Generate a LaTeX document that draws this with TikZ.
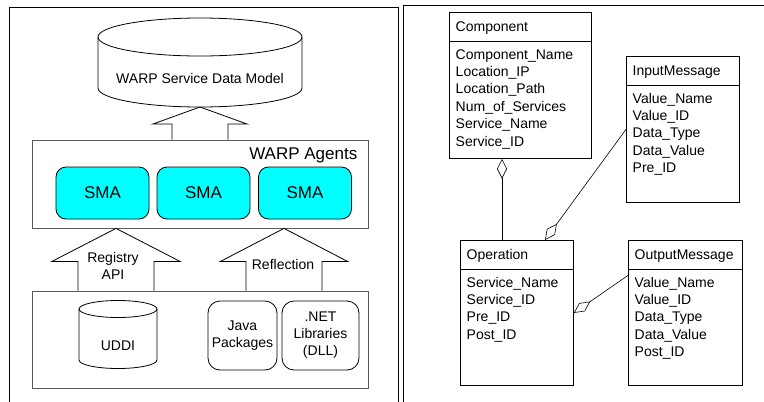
\documentclass[tikz,border=0pt]{standalone}
\usepackage{fontspec}
\setmainfont{Liberation Sans}
\usepackage{tikz}
\usetikzlibrary{arrows.meta,calc}
\definecolor{smacyan}{RGB}{0,255,255}
\newcommand{\bigfont}{\fontsize{17}{20}\selectfont}
\tikzstyle{outline} = [draw, line width=1pt]
\tikzstyle{panel} = [draw=black!65, line width=0.8pt, inner sep=0pt]
\tikzstyle{sma} = [draw, fill=smacyan, rounded corners=10pt, minimum width=93pt, minimum height=52pt, font=\bigfont]
\tikzstyle{libbox} = [draw, rounded corners=12pt, minimum height=69pt, align=center, inner sep=0pt]
\tikzstyle{classbox} = [draw, inner sep=0pt]
\tikzstyle{assoc} = [draw, line width=0.6pt]
\tikzset{>=latex, aggr/.tip={Diamond[open,length=20pt,width=10pt]}}
% drum: centre x, top y, bottom y, x radius, y radius
\newcommand{\drum}[5]{%
  \draw[fill=white] ({#1-#4},#2) -- ({#1-#4},#3) arc[start angle=180, end angle=360, x radius=#4pt, y radius=#5pt] -- ({#1+#4},#2);
  \draw (#1,#2) ellipse[x radius=#4pt, y radius=#5pt];}
% hollow block arrow from a base anchor up to a tip anchor
\newcommand{\blockarrow}[5]{%
  \draw[fill=white] let \p1=(#1), \p2=(#2) in
    (\x2+#4pt,\y1) -- (\x2+#4pt,\y2-#5pt) -- (\x2+#3pt,\y2-#5pt) -- (\p2)
    -- (\x2-#3pt,\y2-#5pt) -- (\x2-#4pt,\y2-#5pt) -- (\x2-#4pt,\y1);}
% class box: name, x, y, width, height, title, attributes
\newcommand{\umlclass}[7]{%
  \node[classbox, minimum width=#4pt, minimum height=#5pt, anchor=north west] (#1) at (#2,#3) {};
  \node[anchor=base west] (#1-title) at ([xshift=3pt,yshift=-19pt]#1.north west) {#6};
  \draw ([yshift=-29pt]#1.north west) -- ([yshift=-29pt]#1.north east);
  \foreach \attr [count=\k] in {#7}
    \node[anchor=base west] (#1-\k) at ([xshift=3pt,yshift={-(47+17.4*(\k-1))*1pt}]#1.north west) {\attr};}

\begin{document}
\begin{tikzpicture}[x=1pt, y=-1pt, font=\fontsize{14}{17}\selectfont, line width=0.8pt]
  \useasboundingbox (0,0) rectangle (764,402);
  \draw[outline] (9,402) -- (9,7) -- (398,7) -- (398,402);
  \draw[outline] (403,402) -- (403,5) -- (764,5);

  % service data model
  \drum{200}{37}{88}{102}{19}
  \coordinate (sdm-base) at (200,107);
  \node[anchor=base] (sdm) at (200,83) {WARP Service Data Model};

  % agents
  \node[panel, minimum width=336pt, minimum height=88pt] (agents) at (200,184) {};
  \node[anchor=base east, font=\bigfont] (agents-label) at (361,159) {WARP Agents};
  \node[sma] (sma1) at (102.5,193) {SMA};
  \node[sma] (sma2) at (203.5,193) {SMA};
  \node[sma] (sma3) at (305,193) {SMA};
  \blockarrow{agents.north}{sdm-base}{47}{28}{17}

  % sources
  \node[panel, minimum width=336pt, minimum height=97pt] (store) at (200,339.5) {};
  \drum{118}{309}{360}{39}{8.5}
  \node[anchor=base] (uddi) at (118,350) {UDDI};
  \node[libbox, minimum width=69pt] (java) at (242.5,335.5) {Java\\Packages};
  \node[libbox, minimum width=77pt] (dotnet) at (320.5,335.5) {.NET\\Libraries\\(DLL)};
  \blockarrow{[xshift=-84pt]store.north}{[xshift=-84pt]agents.south}{64}{38}{33}
  \blockarrow{[xshift=84pt]store.north}{[xshift=84pt]agents.south}{63.5}{38}{33}
  \node[align=center] (registry) at (113,266) {Registry\\API};
  \node (reflection) at (283,264.5) {Reflection};

  % classes
  \umlclass{comp}{449}{12}{142}{146}{Component}{Component\_Name, Location\_IP, Location\_Path, Num\_of\_Services, Service\_Name, Service\_ID}
  \umlclass{inmsg}{626}{56}{113}{146}{InputMessage}{Value\_Name, Value\_ID, Data\_Type, Data\_Value, Pre\_ID}
  \umlclass{op}{460}{240}{113}{145}{Operation}{Service\_Name, Service\_ID, Pre\_ID, Post\_ID}
  \umlclass{outmsg}{628}{240}{114}{145}{OutputMessage}{Value\_Name, Value\_ID, Data\_Type, Data\_Value, Post\_ID}
  \draw[assoc, aggr-] ([xshift=53pt]comp.south west) -- ([xshift=42pt]op.north west);
  \draw[assoc, -aggr] (inmsg.west) -- ([xshift=85pt]op.north west);
  \draw[assoc, -aggr] ([yshift=37.5pt]outmsg.west) -- (op.east);
\end{tikzpicture}
\end{document}
